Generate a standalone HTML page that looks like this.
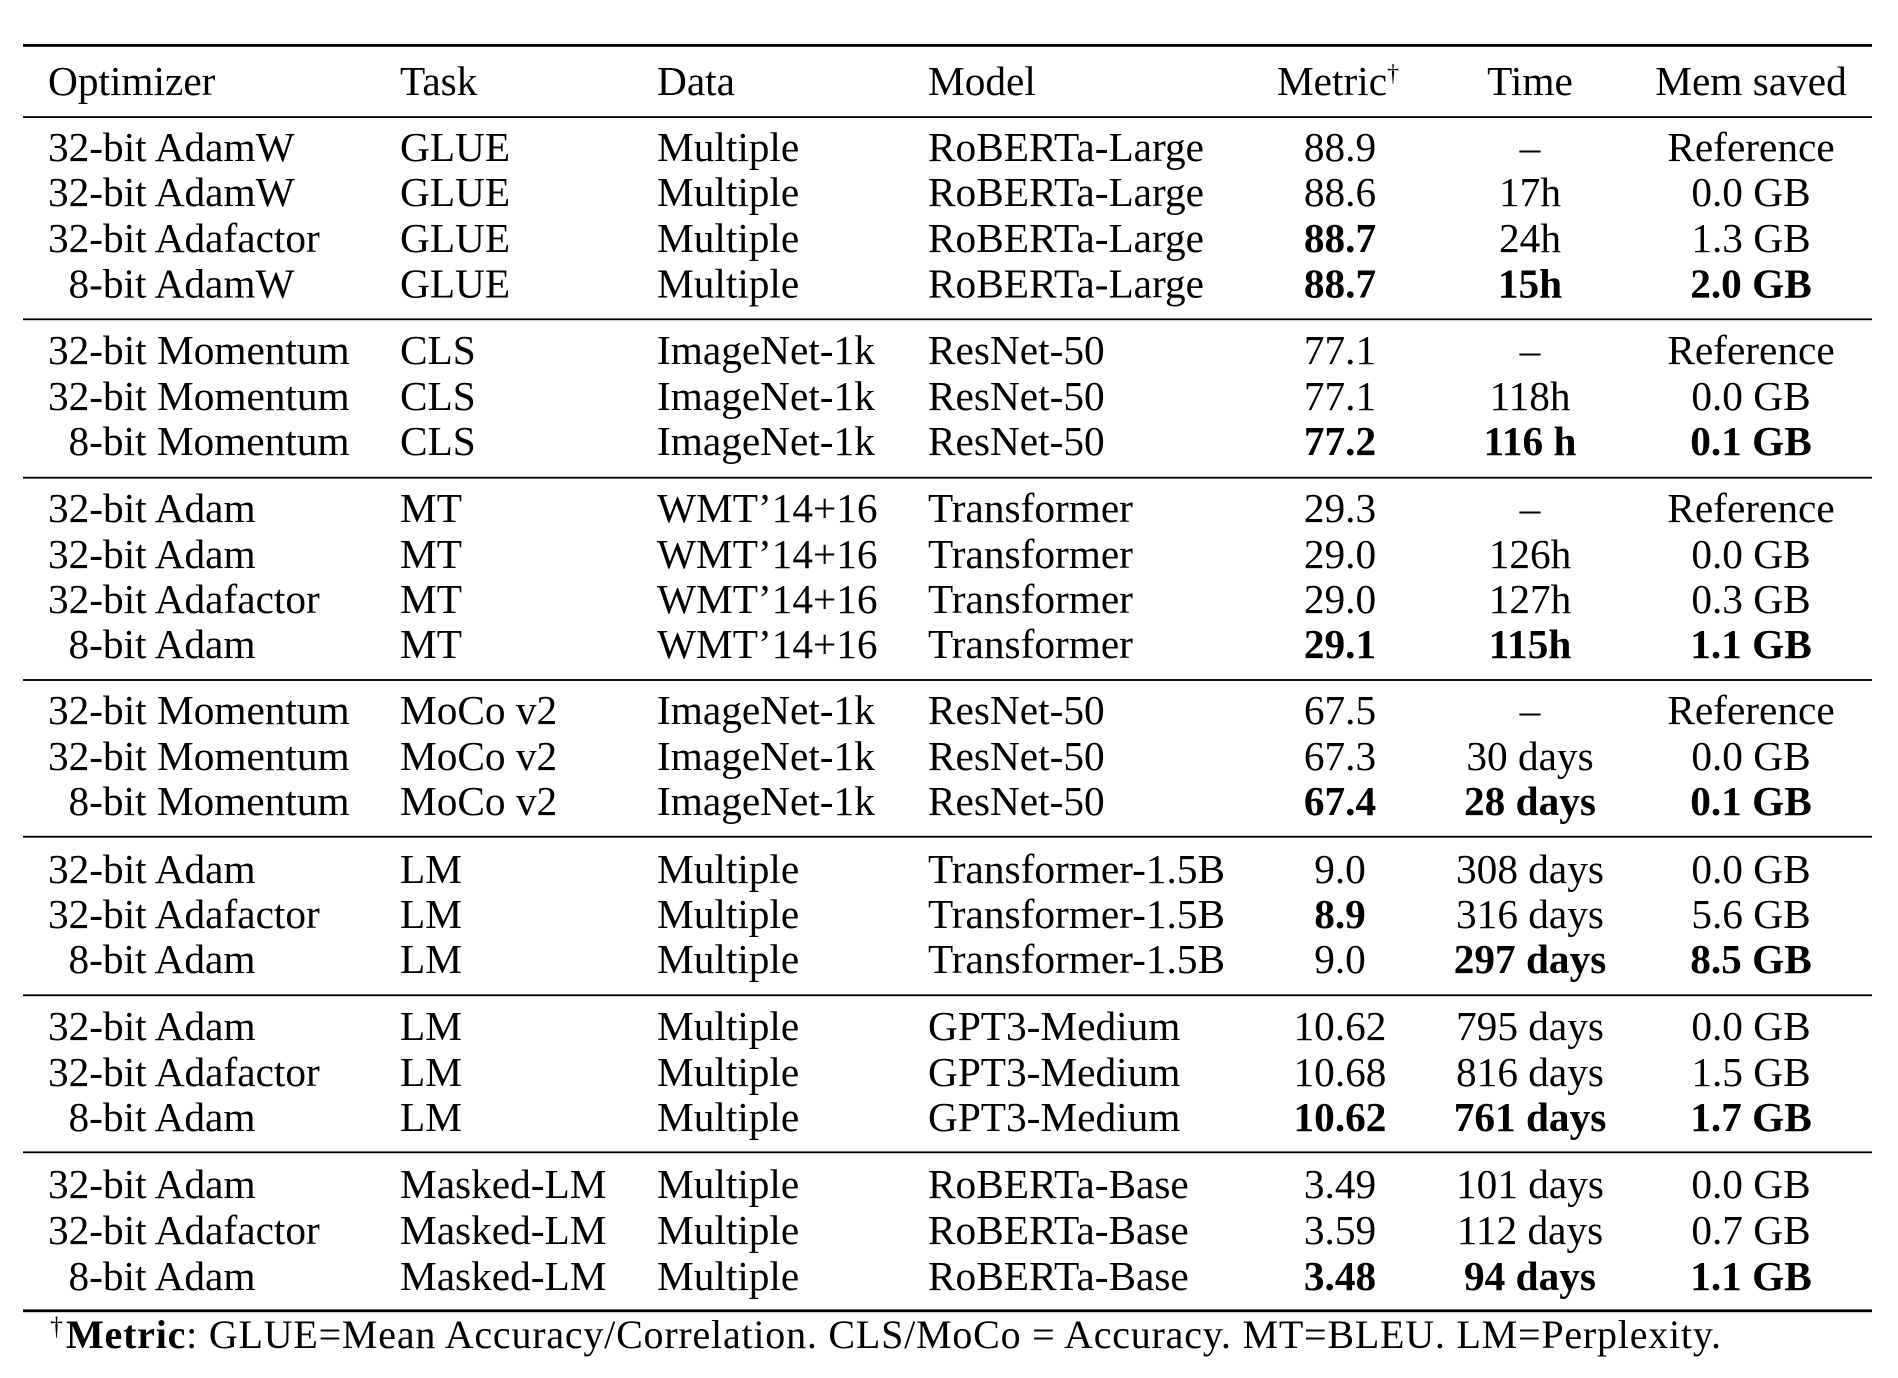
<!DOCTYPE html>
<html>
<head>
<meta charset="utf-8">
<style>
  html, body { margin: 0; padding: 0; background: #ffffff; }
  svg { display: block; }
  text { fill: #000; }
</style>
</head>
<body>
<svg width="1898" height="1378" viewBox="0 0 1898 1378" xmlns="http://www.w3.org/2000/svg" font-family="'Liberation Serif', 'Times New Roman', serif" font-size="41.3">
  <rect x="0" y="0" width="1898" height="1378" fill="#ffffff"/>

  <!-- rules -->
  <rect x="23" y="44" width="1849" height="2.8" fill="#000"/>
  <rect x="23" y="116.2" width="1849" height="1.8" fill="#000"/>
  <rect x="23" y="318.4" width="1849" height="1.8" fill="#000"/>
  <rect x="23" y="476.8" width="1849" height="1.8" fill="#000"/>
  <rect x="23" y="679.1" width="1849" height="1.8" fill="#000"/>
  <rect x="23" y="835.8" width="1849" height="1.8" fill="#000"/>
  <rect x="23" y="994.4" width="1849" height="1.8" fill="#000"/>
  <rect x="23" y="1151.4" width="1849" height="1.8" fill="#000"/>
  <rect x="23" y="1309.4" width="1849" height="2.8" fill="#000"/>

  <!-- header -->
  <text x="48" y="95">Optimizer</text>
  <text x="400" y="95">Task</text>
  <text x="657" y="95">Data</text>
  <text x="928" y="95">Model</text>
  <text x="1338" y="95" text-anchor="middle">Metric<tspan font-size="24" dy="-14">†</tspan></text>
  <text x="1530" y="95" text-anchor="middle">Time</text>
  <text x="1751" y="95" text-anchor="middle">Mem saved</text>

  <!-- Group 1 -->
  <text x="48" y="161">32-bit AdamW</text><text x="400" y="161">GLUE</text><text x="657" y="161">Multiple</text><text x="928" y="161">RoBERTa-Large</text>
  <text x="1340" y="161" text-anchor="middle">88.9</text><text x="1530" y="161" text-anchor="middle">–</text><text x="1751" y="161" text-anchor="middle">Reference</text>

  <text x="48" y="206">32-bit AdamW</text><text x="400" y="206">GLUE</text><text x="657" y="206">Multiple</text><text x="928" y="206">RoBERTa-Large</text>
  <text x="1340" y="206" text-anchor="middle">88.6</text><text x="1530" y="206" text-anchor="middle">17h</text><text x="1751" y="206" text-anchor="middle">0.0 GB</text>

  <text x="48" y="252">32-bit Adafactor</text><text x="400" y="252">GLUE</text><text x="657" y="252">Multiple</text><text x="928" y="252">RoBERTa-Large</text>
  <text x="1340" y="252" text-anchor="middle" font-weight="bold">88.7</text><text x="1530" y="252" text-anchor="middle">24h</text><text x="1751" y="252" text-anchor="middle">1.3 GB</text>

  <text x="68.5" y="297.5">8-bit AdamW</text><text x="400" y="297.5">GLUE</text><text x="657" y="297.5">Multiple</text><text x="928" y="297.5">RoBERTa-Large</text>
  <text x="1340" y="297.5" text-anchor="middle" font-weight="bold">88.7</text><text x="1530" y="297.5" text-anchor="middle" font-weight="bold">15h</text><text x="1751" y="297.5" text-anchor="middle" font-weight="bold">2.0 GB</text>

  <!-- Group 2 -->
  <text x="48" y="364">32-bit Momentum</text><text x="400" y="364">CLS</text><text x="657" y="364">ImageNet-1k</text><text x="928" y="364">ResNet-50</text>
  <text x="1340" y="364" text-anchor="middle">77.1</text><text x="1530" y="364" text-anchor="middle">–</text><text x="1751" y="364" text-anchor="middle">Reference</text>

  <text x="48" y="410">32-bit Momentum</text><text x="400" y="410">CLS</text><text x="657" y="410">ImageNet-1k</text><text x="928" y="410">ResNet-50</text>
  <text x="1340" y="410" text-anchor="middle">77.1</text><text x="1530" y="410" text-anchor="middle">118h</text><text x="1751" y="410" text-anchor="middle">0.0 GB</text>

  <text x="68.5" y="455">8-bit Momentum</text><text x="400" y="455">CLS</text><text x="657" y="455">ImageNet-1k</text><text x="928" y="455">ResNet-50</text>
  <text x="1340" y="455" text-anchor="middle" font-weight="bold">77.2</text><text x="1530" y="455" text-anchor="middle" font-weight="bold">116 h</text><text x="1751" y="455" text-anchor="middle" font-weight="bold">0.1 GB</text>

  <!-- Group 3 -->
  <text x="48" y="522">32-bit Adam</text><text x="400" y="522">MT</text><text x="657" y="522">WMT’14+16</text><text x="928" y="522">Transformer</text>
  <text x="1340" y="522" text-anchor="middle">29.3</text><text x="1530" y="522" text-anchor="middle">–</text><text x="1751" y="522" text-anchor="middle">Reference</text>

  <text x="48" y="568">32-bit Adam</text><text x="400" y="568">MT</text><text x="657" y="568">WMT’14+16</text><text x="928" y="568">Transformer</text>
  <text x="1340" y="568" text-anchor="middle">29.0</text><text x="1530" y="568" text-anchor="middle">126h</text><text x="1751" y="568" text-anchor="middle">0.0 GB</text>

  <text x="48" y="613">32-bit Adafactor</text><text x="400" y="613">MT</text><text x="657" y="613">WMT’14+16</text><text x="928" y="613">Transformer</text>
  <text x="1340" y="613" text-anchor="middle">29.0</text><text x="1530" y="613" text-anchor="middle">127h</text><text x="1751" y="613" text-anchor="middle">0.3 GB</text>

  <text x="68.5" y="658">8-bit Adam</text><text x="400" y="658">MT</text><text x="657" y="658">WMT’14+16</text><text x="928" y="658">Transformer</text>
  <text x="1340" y="658" text-anchor="middle" font-weight="bold">29.1</text><text x="1530" y="658" text-anchor="middle" font-weight="bold">115h</text><text x="1751" y="658" text-anchor="middle" font-weight="bold">1.1 GB</text>

  <!-- Group 4 -->
  <text x="48" y="724">32-bit Momentum</text><text x="400" y="724">MoCo v2</text><text x="657" y="724">ImageNet-1k</text><text x="928" y="724">ResNet-50</text>
  <text x="1340" y="724" text-anchor="middle">67.5</text><text x="1530" y="724" text-anchor="middle">–</text><text x="1751" y="724" text-anchor="middle">Reference</text>

  <text x="48" y="770">32-bit Momentum</text><text x="400" y="770">MoCo v2</text><text x="657" y="770">ImageNet-1k</text><text x="928" y="770">ResNet-50</text>
  <text x="1340" y="770" text-anchor="middle">67.3</text><text x="1530" y="770" text-anchor="middle">30 days</text><text x="1751" y="770" text-anchor="middle">0.0 GB</text>

  <text x="68.5" y="815">8-bit Momentum</text><text x="400" y="815">MoCo v2</text><text x="657" y="815">ImageNet-1k</text><text x="928" y="815">ResNet-50</text>
  <text x="1340" y="815" text-anchor="middle" font-weight="bold">67.4</text><text x="1530" y="815" text-anchor="middle" font-weight="bold">28 days</text><text x="1751" y="815" text-anchor="middle" font-weight="bold">0.1 GB</text>

  <!-- Group 5 -->
  <text x="48" y="883">32-bit Adam</text><text x="400" y="883">LM</text><text x="657" y="883">Multiple</text><text x="928" y="883">Transformer-1.5B</text>
  <text x="1340" y="883" text-anchor="middle">9.0</text><text x="1530" y="883" text-anchor="middle">308 days</text><text x="1751" y="883" text-anchor="middle">0.0 GB</text>

  <text x="48" y="928">32-bit Adafactor</text><text x="400" y="928">LM</text><text x="657" y="928">Multiple</text><text x="928" y="928">Transformer-1.5B</text>
  <text x="1340" y="928" text-anchor="middle" font-weight="bold">8.9</text><text x="1530" y="928" text-anchor="middle">316 days</text><text x="1751" y="928" text-anchor="middle">5.6 GB</text>

  <text x="68.5" y="973">8-bit Adam</text><text x="400" y="973">LM</text><text x="657" y="973">Multiple</text><text x="928" y="973">Transformer-1.5B</text>
  <text x="1340" y="973" text-anchor="middle">9.0</text><text x="1530" y="973" text-anchor="middle" font-weight="bold">297 days</text><text x="1751" y="973" text-anchor="middle" font-weight="bold">8.5 GB</text>

  <!-- Group 6 -->
  <text x="48" y="1040">32-bit Adam</text><text x="400" y="1040">LM</text><text x="657" y="1040">Multiple</text><text x="928" y="1040">GPT3-Medium</text>
  <text x="1340" y="1040" text-anchor="middle">10.62</text><text x="1530" y="1040" text-anchor="middle">795 days</text><text x="1751" y="1040" text-anchor="middle">0.0 GB</text>

  <text x="48" y="1086">32-bit Adafactor</text><text x="400" y="1086">LM</text><text x="657" y="1086">Multiple</text><text x="928" y="1086">GPT3-Medium</text>
  <text x="1340" y="1086" text-anchor="middle">10.68</text><text x="1530" y="1086" text-anchor="middle">816 days</text><text x="1751" y="1086" text-anchor="middle">1.5 GB</text>

  <text x="68.5" y="1131">8-bit Adam</text><text x="400" y="1131">LM</text><text x="657" y="1131">Multiple</text><text x="928" y="1131">GPT3-Medium</text>
  <text x="1340" y="1131" text-anchor="middle" font-weight="bold">10.62</text><text x="1530" y="1131" text-anchor="middle" font-weight="bold">761 days</text><text x="1751" y="1131" text-anchor="middle" font-weight="bold">1.7 GB</text>

  <!-- Group 7 -->
  <text x="48" y="1198">32-bit Adam</text><text x="400" y="1198">Masked-LM</text><text x="657" y="1198">Multiple</text><text x="928" y="1198">RoBERTa-Base</text>
  <text x="1340" y="1198" text-anchor="middle">3.49</text><text x="1530" y="1198" text-anchor="middle">101 days</text><text x="1751" y="1198" text-anchor="middle">0.0 GB</text>

  <text x="48" y="1244">32-bit Adafactor</text><text x="400" y="1244">Masked-LM</text><text x="657" y="1244">Multiple</text><text x="928" y="1244">RoBERTa-Base</text>
  <text x="1340" y="1244" text-anchor="middle">3.59</text><text x="1530" y="1244" text-anchor="middle">112 days</text><text x="1751" y="1244" text-anchor="middle">0.7 GB</text>

  <text x="68.5" y="1290">8-bit Adam</text><text x="400" y="1290">Masked-LM</text><text x="657" y="1290">Multiple</text><text x="928" y="1290">RoBERTa-Base</text>
  <text x="1340" y="1290" text-anchor="middle" font-weight="bold">3.48</text><text x="1530" y="1290" text-anchor="middle" font-weight="bold">94 days</text><text x="1751" y="1290" text-anchor="middle" font-weight="bold">1.1 GB</text>

  <!-- footnote -->
  <text x="50" y="1335" font-size="26">†</text>
  <text x="66" y="1348" font-size="40" textLength="1655" lengthAdjust="spacing"><tspan font-weight="bold">Metric</tspan>: GLUE=Mean Accuracy/Correlation. CLS/MoCo = Accuracy. MT=BLEU. LM=Perplexity.</text>
</svg>
</body>
</html>
